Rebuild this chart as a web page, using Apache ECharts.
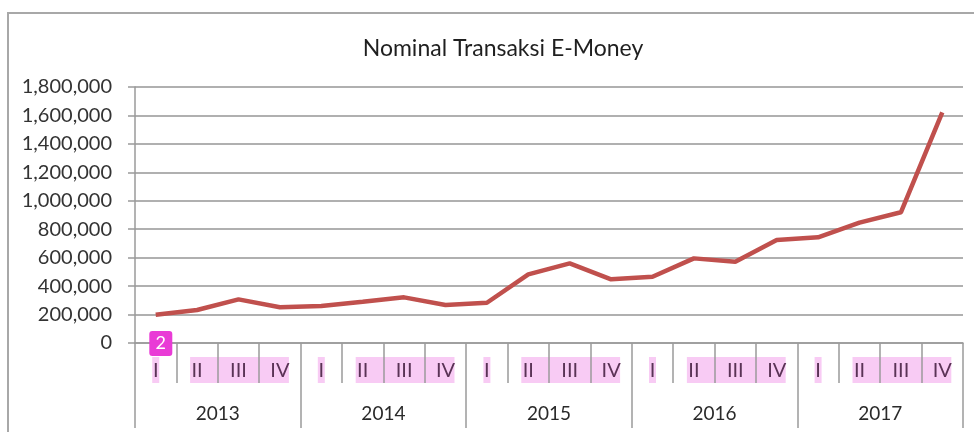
<!DOCTYPE html>
<html>
<head>
<meta charset="utf-8">
<script src="https://cdn.jsdelivr.net/npm/echarts@6/dist/echarts.min.js"></script>
<style>
  html, body { margin: 0; padding: 0; background: #fff; overflow: hidden; }
  #frame {
    position: absolute; left: 7px; top: 12px; width: 1100px; height: 600px;
    border: 2px solid #a8a8a8; box-sizing: border-box;
  }
  #chart { position: absolute; left: 0; top: 0; width: 974px; height: 432px; }
</style>
</head>
<body>
<div id="frame"></div>
<div id="chart"></div>
<script>
// data
const years = ['2013', '2014', '2015', '2016', '2017']
const quarterNames = ['I', 'II', 'III', 'IV']
const nominal = [
  198000, 232000, 307000, 251000,
  260000, 290000, 321000, 267000,
  283000, 483000, 560000, 448000,
  466000, 595000, 572000, 724000,
  743000, 846000, 919000, 1622000
]
const yTicks = [0, 200000, 400000, 600000, 800000, 1000000, 1200000, 1400000, 1600000, 1800000]

const periods = []
years.forEach(y => quarterNames.forEach(q => periods.push(y + ' ' + q)))

const font = 'Lato'
const axisColor = '#9a9a9a'
const gridColor = '#b0b0b0'
const lineColor = '#C0504D'
const highlight = 'rgba(238,130,228,0.42)'

const myChart = echarts.init(document.getElementById('chart'))

let option = {
  animation: false,
  title: {
    text: 'Nominal Transaksi E-Money',
    left: 498,
    textAlign: 'center',
    top: 32,
    textStyle: { fontFamily: font, fontSize: 23, fontWeight: 'normal', color: '#1f1f1f' }
  },
  grid: { left: 135, right: 11, top: 87, bottom: 89 },
  xAxis: [
    {
      type: 'category',
      data: periods,
      position: 'bottom',
      boundaryGap: true,
      axisLine: { show: true, lineStyle: { color: axisColor, width: 1.5 } },
      axisTick: { show: true, interval: 0, length: 40, lineStyle: { color: axisColor, width: 1.5 } },
      axisLabel: {
        interval: 0,
        margin: 18,
        fontFamily: font,
        fontSize: 20,
        color: '#5a3356',
        formatter: v => v.split(' ')[1]
      },
      splitLine: { show: false }
    },
    {
      type: 'category',
      data: years,
      position: 'bottom',
      boundaryGap: true,
      axisLine: { show: false },
      axisTick: { show: true, interval: 0, length: 85, lineStyle: { color: axisColor, width: 1.5 } },
      axisLabel: { interval: 0, margin: 61, fontFamily: font, fontSize: 19, color: '#2a2a2a' },
      splitLine: { show: false }
    }
  ],
  yAxis: {
    type: 'value',
    min: yTicks[0],
    max: yTicks[yTicks.length - 1],
    interval: yTicks[1] - yTicks[0],
    axisLine: { show: true, lineStyle: { color: axisColor, width: 1.5 } },
    axisTick: { show: true, length: 7, lineStyle: { color: axisColor, width: 1.5 } },
    axisLabel: {
      margin: 23,
      fontFamily: font,
      fontSize: 20,
      color: '#333',
      formatter: v => v.toLocaleString('en-US')
    },
    splitLine: { show: true, lineStyle: { color: gridColor, width: 2 } }
  },
  series: [
    {
      name: 'Nominal',
      type: 'line',
      xAxisIndex: 0,
      data: nominal,
      symbol: 'none',
      smooth: false,
      lineStyle: { color: lineColor, width: 4.5 },
      z: 5
    }
  ]
}
myChart.setOption(option)

// pink highlight boxes + the "2" badge, placed from the axis scale
const cx = i => myChart.convertToPixel({ xAxisIndex: 0 }, i)
const axisY = myChart.convertToPixel({ yAxisIndex: 0 }, 0)
let graphics = []
years.forEach((y, k) => {
  const i0 = k * 4
  graphics.push({
    type: 'rect', z: -10, silent: true,
    shape: { x: cx(i0) - 3.5, y: axisY + 14, width: 7, height: 26 },
    style: { fill: highlight }
  })
  graphics.push({
    type: 'rect', z: -10, silent: true,
    shape: { x: cx(i0 + 1) - 7, y: axisY + 14, width: cx(i0 + 3) + 9 - (cx(i0 + 1) - 7), height: 26 },
    style: { fill: highlight }
  })
})
graphics.push({
  type: 'rect', z: 20, silent: true,
  shape: { x: cx(0) - 6.4, y: axisY - 12, width: 23, height: 25, r: 3 },
  style: { fill: '#E93BD6' }
})
graphics.push({
  type: 'text', z: 21, silent: true,
  style: {
    x: cx(0) - 6.4 + 11.5, y: axisY + 0.5, text: '2',
    fill: '#fff', font: '18px Lato', align: 'center', verticalAlign: 'middle'
  }
})
myChart.setOption({ graphic: graphics })
</script>
</body>
</html>
